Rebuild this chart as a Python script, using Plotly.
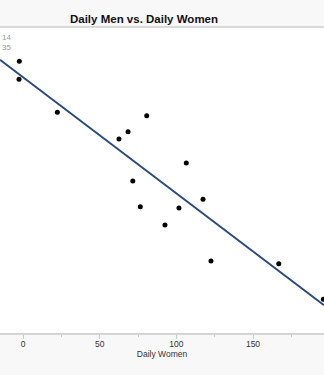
import numpy as np
import plotly.graph_objects as go

# Data
daily_women = [-2.4, -2.6, 22.4, 80.7, 68.5, 62.6, 106.5, 71.6, 117.4, 76.5, 101.7, 92.6, 122.6, 166.8, 195.9]
daily_men = [177.2, 165.5, 144.0, 141.7, 131.3, 126.6, 110.9, 99.2, 87.2, 82.4, 81.5, 70.5, 47.0, 45.2, 22.0]
x_ticks = [0, 50, 100, 150, 200]
stat_labels = ["14", "35"]

x = np.array(daily_women)
y = np.array(daily_men)
slope, intercept = np.polyfit(x, y, 1)
x_range = [-15.0, 196.3]
line_x = np.array(x_range)
line_y = slope * line_x + intercept

fig = go.Figure()
fig.add_trace(go.Scatter(x=line_x, y=line_y, mode="lines",
                         line=dict(color="#2b4a7e", width=1.8), hoverinfo="skip"))
fig.add_trace(go.Scatter(x=x, y=y, mode="markers",
                         marker=dict(color="black", size=5)))

fig.update_layout(
    width=324, height=375,
    margin=dict(l=0, r=0, t=27, b=42),
    paper_bgcolor="#f8f8f8", plot_bgcolor="white",
    showlegend=False,
    font=dict(family="Liberation Sans, Arial, sans-serif", color="#333"),
    title=dict(text="<b>Daily Men vs. Daily Women</b>", x=144/324, xanchor="center",
               y=1-19/375, yanchor="middle", yref="container",
               font=dict(size=11.5, color="#111")),
    xaxis=dict(range=x_range, tickvals=x_ticks, showgrid=False, zeroline=False,
               showline=True, linecolor="#d4d4d4", linewidth=2,
               ticks="outside", ticklen=4, tickcolor="#cccccc",
               ticklabelstandoff=-2,
               minor=dict(dtick=25, ticks="outside", ticklen=2, tickcolor="#cccccc"),
               tickfont=dict(size=8.5, color="#333"),
               title=dict(text="Daily Women", font=dict(size=8.5, color="#333"), standoff=0)),
    yaxis=dict(range=[0, 199.6], showgrid=False, zeroline=False, showticklabels=False,
               showline=False),
    shapes=[dict(type="line", xref="paper", yref="paper", x0=0, x1=1, y0=1, y1=1,
                 line=dict(color="#cfcfcf", width=1.5))],
    annotations=[
        dict(text=stat_labels[0], xref="paper", yref="paper", x=0, y=1-(37-27)/306,
             xanchor="left", yanchor="middle", showarrow=False,
             font=dict(size=8, color="#999")),
        dict(text=stat_labels[1], xref="paper", yref="paper", x=0, y=1-(47-27)/306,
             xanchor="left", yanchor="middle", showarrow=False,
             font=dict(size=8, color="#999")),
    ],
)

fig.write_html("out.html")
